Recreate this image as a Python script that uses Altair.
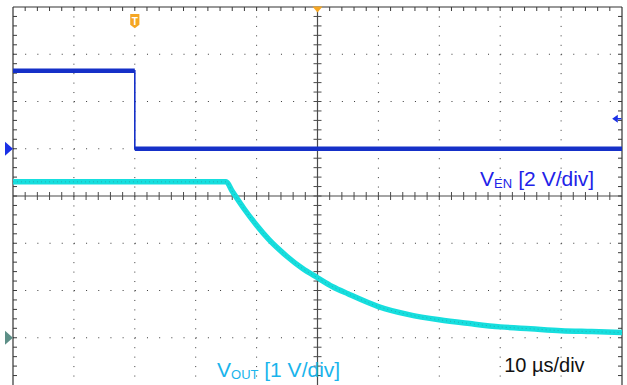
import altair as alt
import pandas as pd
import numpy as np

# ---------------- data ----------------
# time base: 10 us/div, 10 divisions, centre = 0 us
T_MIN, T_MAX = -50, 50
DIV_MIN, DIV_MAX = -4, 4

# V_EN channel: 2 V/div, ground marker at +1 div
ven_t = [-50, -30, -30, 50]
ven_v = [3.3, 3.3, 0.0, 0.0]
VEN_SCALE, VEN_OFFSET = 2.0, 1.0
TRIG_LEVEL = 1.27  # V, trigger level arrow on right edge

# V_OUT channel: 1 V/div, ground marker at -3 div
vout_t = [-50, -15, -14, -12, -10, -8, -5, -2.5, 0, 2.5, 5, 10, 15, 20, 25, 30, 35, 40, 45, 50]
vout_v = [3.3, 3.3, 3.1, 2.72, 2.38, 2.08, 1.72, 1.47, 1.27, 1.08, 0.93, 0.66, 0.49, 0.38,
          0.30, 0.23, 0.19, 0.15, 0.13, 0.11]
VOUT_SCALE, VOUT_OFFSET = 1.0, -3.0

TRIG_TIME = -30

# ---------------- layout ----------------
W, H = 609, 378
xs = alt.Scale(domain=[T_MIN, T_MAX], nice=False, zero=False)
ys = alt.Scale(domain=[DIV_MIN, DIV_MAX], nice=False, zero=False)


def X(f):
    return alt.X(f, type="quantitative", scale=xs, axis=None)


def Y(f):
    return alt.Y(f, type="quantitative", scale=ys, axis=None)


GRID = "#3a3a3a"
FRAME = "#333333"
BLUE = "#1530c8"
CYAN = "#16dede"

# ---------------- grid ----------------
vgrid = pd.DataFrame({"t": [-40, -30, -20, -10, 10, 20, 30, 40]})
hgrid = pd.DataFrame({"y": [-3, -2, -1, 1, 2, 3]})
v_lines = alt.Chart(vgrid).mark_rule(color=GRID, strokeWidth=1, strokeDash=[1, H / 40 - 1]).encode(
    x=X("t"), y=alt.value(0), y2=alt.value(H + 2))
h_lines = alt.Chart(hgrid).mark_rule(color=GRID, strokeWidth=1, strokeDash=[1, W / 50 - 1]).encode(
    y=Y("y"), x=alt.value(0), x2=alt.value(W))

centre_v = alt.Chart(pd.DataFrame({"t": [0]})).mark_rule(color="#4a4a4a", strokeWidth=1.2).encode(
    x=X("t"), y=alt.value(0), y2=alt.value(H + 2))
centre_h = alt.Chart(pd.DataFrame({"y": [0]})).mark_rule(color="#4a4a4a", strokeWidth=1.2).encode(
    y=Y("y"), x=alt.value(0), x2=alt.value(W))

# frame: top, left, right (bottom edge lies just outside the picture)
frame_top = alt.Chart(pd.DataFrame({"y": [DIV_MAX]})).mark_rule(color=FRAME, strokeWidth=1.2).encode(
    y=Y("y"), x=alt.value(0), x2=alt.value(W))
frame_lr = alt.Chart(pd.DataFrame({"t": [T_MIN, T_MAX]})).mark_rule(color=FRAME, strokeWidth=1.2).encode(
    x=X("t"), y=alt.value(0), y2=alt.value(H + 2))

minor_t = pd.DataFrame({"t": np.arange(-48, 49, 2), "y": 0})
minor_y = pd.DataFrame({"y": np.round(np.arange(-3.8, 3.81, 0.2), 2), "t": 0})

ticks_h = alt.Chart(minor_t).mark_tick(orient="vertical", size=8, thickness=1, color="#4a4a4a", opacity=1).encode(
    x=X("t"), y=Y("y"))
ticks_v = alt.Chart(minor_y).mark_tick(orient="horizontal", size=8, thickness=1, color="#4a4a4a", opacity=1).encode(
    x=X("t"), y=Y("y"))

top_ticks = alt.Chart(minor_t).mark_rule(color=GRID, strokeWidth=1).encode(
    x=X("t"), y=alt.value(0), y2=alt.value(4))
left_ticks = alt.Chart(minor_y).mark_rule(color=GRID, strokeWidth=1).encode(
    y=Y("y"), x=alt.value(0), x2=alt.value(4))
right_ticks = alt.Chart(minor_y).mark_rule(color=GRID, strokeWidth=1).encode(
    y=Y("y"), x=alt.value(W - 4), x2=alt.value(W))

# ---------------- traces ----------------
ven_df = pd.DataFrame({"t": ven_t, "y": [v / VEN_SCALE + VEN_OFFSET for v in ven_v],
                       "i": range(len(ven_t))})
seg_rows = []
for i in range(len(ven_t) - 1):
    if ven_v[i] == ven_v[i + 1]:
        seg_rows.append({"t": ven_t[i], "t2": ven_t[i + 1], "y": ven_v[i] / VEN_SCALE + VEN_OFFSET})
ven_seg = pd.DataFrame(seg_rows)

ven_thin = alt.Chart(ven_df).mark_line(color=BLUE, strokeWidth=1.6).encode(
    x=X("t"), y=Y("y"), order="i:Q")
ven_thick = alt.Chart(ven_seg).mark_rule(color=BLUE, strokeWidth=4.5).encode(
    x=X("t"), x2="t2:Q", y=Y("y"))

vout_df = pd.DataFrame({"t": vout_t, "y": [v / VOUT_SCALE + VOUT_OFFSET for v in vout_v]})
vout_line = alt.Chart(vout_df).mark_line(color=CYAN, strokeWidth=5.5, interpolate="monotone").encode(
    x=X("t"), y=Y("y"))
vout_edge = alt.Chart(vout_df).mark_line(color="#2a7f86", strokeWidth=0.8, strokeDash=[1, 3], opacity=0.6,
                                         interpolate="monotone").encode(x=X("t"), y=Y("y"))

# ---------------- markers ----------------
def marker(t, y, shape, size, color):
    return alt.Chart(pd.DataFrame({"t": [t], "y": [y]})).mark_point(
        shape=shape, size=size, filled=True, color=color, opacity=1, strokeWidth=0).encode(
        x=X("t"), y=Y("y"))


trig_mark = marker(TRIG_TIME, 3.70, "M-0.65,-1 L0.65,-1 L0.65,0.5 L0,1 L-0.65,0.5 Z", 200, "#f5a623")
trig_txt = alt.Chart(pd.DataFrame({"t": [TRIG_TIME], "y": [3.62], "s": ["T"]})).mark_text(
    font="Liberation Sans", fontSize=10, fontWeight="bold", color="white", baseline="alphabetic",
    align="center").encode(x=X("t"), y=Y("y"), text="s:N")
pos_mark = marker(0, 3.947, "M-1,-0.6 L1,-0.6 L0,0.6 Z", 100, "#f5a623")
ven_gnd = marker(-50.66, VEN_OFFSET, "M-0.57,-1 L0.57,0 L-0.57,1 Z", 196, "#1a30e6")
vout_gnd = marker(-50.66, VOUT_OFFSET, "M-0.57,-1 L0.57,0 L-0.57,1 Z", 196, "#5d8f87")
trig_lvl = marker(48.85, TRIG_LEVEL / VEN_SCALE + VEN_OFFSET,
                  "M0.7,-1 L-0.7,0 L0.7,1 Z M0.7,-0.2 L1.6,-0.2 L1.6,0.2 L0.7,0.2 Z", 64, "#1a30e6")

# ---------------- labels ----------------
labels = pd.DataFrame({
    "t": [26.68, 28.98, 32.97, -16.5, -14.2, -8.74, 30.65],
    "y": [0.21, 0.17, 0.21, -3.83, -3.87, -3.83, -3.72],
    "s": ["V", "EN", "[2 V/div]", "V", "OUT", "[1 V/div]", "10 µs/div"],
    "fs": [21, 13, 21, 21, 13, 21, 20],
    "c": ["#2222e8", "#2222e8", "#2222e8", "#19b4ec", "#19b4ec", "#19b4ec", "#111111"],
})
label_layer = alt.Chart(labels).mark_text(font="Liberation Sans", align="left", baseline="alphabetic").encode(
    x=X("t"), y=Y("y"), text="s:N",
    size=alt.Size("fs:Q", scale=None, legend=None),
    color=alt.Color("c:N", scale=None, legend=None))

chart = alt.layer(
    v_lines, h_lines, centre_v, centre_h, ticks_h, ticks_v,
    frame_top, frame_lr, top_ticks, left_ticks, right_ticks,
    ven_thin, ven_thick, vout_line, vout_edge,
    trig_mark, trig_txt, pos_mark, ven_gnd, vout_gnd, trig_lvl,
    label_layer,
).properties(
    width=W, height=H,
    autosize=alt.AutoSizeParams(type="none"),
    padding={"left": 13, "top": 7, "right": 5, "bottom": 0},
    background="white",
).configure_view(strokeWidth=0)

chart.save("out.html", embed_options={"renderer": "svg", "actions": False})
